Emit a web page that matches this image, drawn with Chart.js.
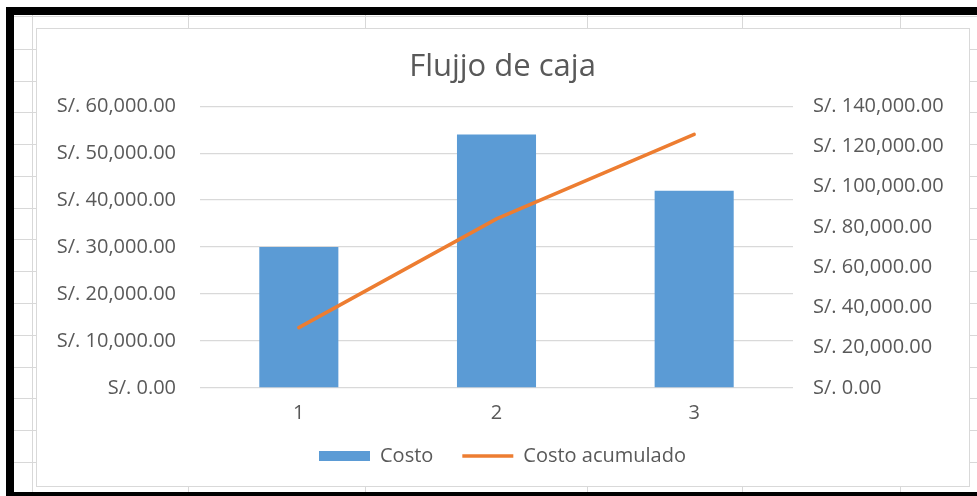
<!DOCTYPE html>
<html>
<head>
<meta charset="utf-8">
<script src="https://cdn.jsdelivr.net/npm/chart.js@4.4.1/dist/chart.umd.min.js"></script>
<style>
  html, body { margin: 0; padding: 0; background: #fff; }
  #page { position: relative; width: 977px; height: 496px; overflow: hidden; background: #fff; }
  .ln { position: absolute; background: #d8d8d8; }
  .blk { position: absolute; background: #000; }
  #box { position: absolute; left: 36px; top: 28px; width: 932px; height: 457px; border: 1px solid #d9d9d9; background: #fff; }
  #c { position: absolute; left: 0; top: 0; }
</style>
</head>
<body>
<div id="page">
  <div id="deco"></div>
  <div id="box"></div>
  <canvas id="c" width="977" height="496"></canvas>
</div>
<script>
// ---- chart data ----
const categories = ['1', '2', '3'];
const costo = [30000, 54000, 42000];
const costoAcumulado = [30000, 84000, 126000];
const seriesNames = ['Costo', 'Costo acumulado'];
const chartTitle = 'Flujjo de caja';
const leftAxisMax = 60000;
const leftAxisStep = 10000;
const rightAxisMax = 140000;
const rightAxisStep = 20000;

// ---- spreadsheet background (decoration) ----
const rowLinesY = [16, 49, 81, 112, 144, 176, 208, 239, 271, 303, 335, 367, 398, 430, 462];
const colLinesX = [32, 188, 365, 587, 742, 900];
const deco = document.getElementById('deco');
function addDiv(cls, l, t, w, h) {
  const d = document.createElement('div');
  d.className = cls;
  d.style.left = l + 'px'; d.style.top = t + 'px';
  d.style.width = w + 'px'; d.style.height = h + 'px';
  deco.appendChild(d);
}
rowLinesY.forEach(y => addDiv('ln', 14, y, 963, 1));
colLinesX.forEach(x => addDiv('ln', x, 15, 1, 477));
addDiv('blk', 6, 7, 971, 8);
addDiv('blk', 6, 7, 8, 489);
addDiv('blk', 6, 492, 971, 4);

// ---- chart ----
const FONT = '"Open Sans", Lato, sans-serif';
const TXT = '#595959';
const money = v => 'S/. ' + Number(v).toLocaleString('en-US', { minimumFractionDigits: 2, maximumFractionDigits: 2 });

const legendShift = {
  id: 'legendShift',
  afterLayout(chart) {
    const l = chart.legend;
    if (l) { l.top -= 8; l.bottom -= 8; }
  }
};

new Chart(document.getElementById('c'), {
  data: {
    labels: categories,
    datasets: [
      {
        type: 'bar',
        label: seriesNames[0],
        data: costo,
        backgroundColor: '#5b9bd5',
        borderWidth: 0,
        barPercentage: 0.4,
        categoryPercentage: 1.0,
        yAxisID: 'y',
        order: 1
      },
      {
        type: 'line',
        label: seriesNames[1],
        data: costoAcumulado,
        borderColor: '#ed7d31',
        backgroundColor: '#ed7d31',
        borderWidth: 3.5,
        pointRadius: 0,
        tension: 0,
        borderCapStyle: 'round',
        yAxisID: 'y1',
        order: 0
      }
    ]
  },
  plugins: [legendShift],
  options: {
    responsive: false,
    animation: false,
    layout: { padding: { left: 36, right: 8, top: 28, bottom: 12 } },
    plugins: {
      tooltip: { enabled: false },
      title: {
        display: true,
        text: chartTitle,
        color: TXT,
        font: { family: FONT, size: 31, weight: 'normal' },
        padding: { top: 21, bottom: 20 }
      },
      legend: {
        position: 'bottom',
        labels: {
          usePointStyle: true,
          pointStyleWidth: 51,
          boxWidth: 51,
          boxHeight: 10,
          padding: 29,
          color: TXT,
          font: { family: FONT, size: 20 },
          sort: (a, b) => a.datasetIndex - b.datasetIndex,
          generateLabels: (chart) => {
            const items = Chart.defaults.plugins.legend.labels.generateLabels(chart);
            items.forEach(it => {
              if (it.datasetIndex === 0) { it.pointStyle = 'rect'; it.lineWidth = 0; it.fillStyle = '#5b9bd5'; }
              else { it.pointStyle = 'line'; it.lineWidth = 3.5; it.strokeStyle = '#ed7d31'; }
            });
            return items;
          }
        }
      }
    },
    scales: {
      x: {
        grid: { display: false, drawTicks: false },
        border: { display: false },
        ticks: { color: TXT, font: { family: FONT, size: 20 }, padding: 13 },
        afterFit: s => { s.height = 37; }
      },
      y: {
        position: 'left',
        min: 0, max: leftAxisMax,
        ticks: { stepSize: leftAxisStep, color: TXT, font: { family: FONT, size: 20 }, padding: 24, callback: money },
        grid: { color: '#d9d9d9', drawTicks: false, lineWidth: 1.3 },
        border: { display: false },
        afterFit: s => { s.width = 164; }
      },
      y1: {
        position: 'right',
        min: 0, max: rightAxisMax,
        ticks: { stepSize: rightAxisStep, color: TXT, font: { family: FONT, size: 20 }, padding: 20, callback: money },
        grid: { display: false, drawTicks: false },
        border: { display: false },
        afterFit: s => { s.width = 176; }
      }
    }
  }
});
</script>
</body>
</html>
